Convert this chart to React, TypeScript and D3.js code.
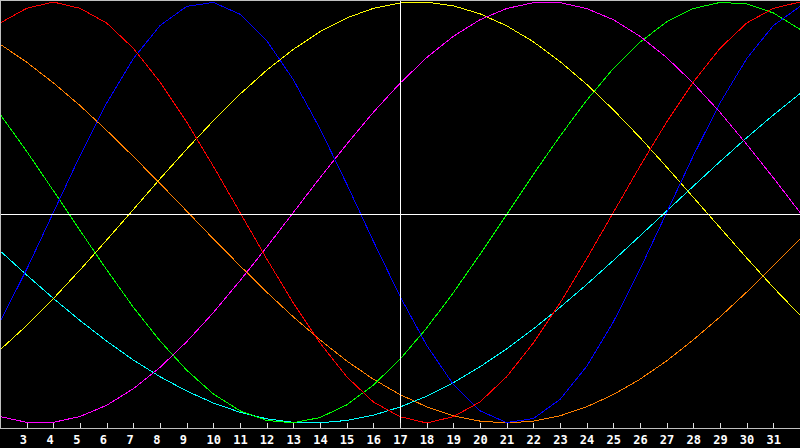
import { useEffect, useRef } from 'react';
import * as d3 from 'd3';

interface Series {
  color: string
  values: number[]
}

// samples are taken at every integer from 2 to 32
const xs = d3.range(2, 33);
const tickLabels = d3.range(3, 32);

const red = [0.90, 0.97, 1.0, 0.97, 0.90, 0.78, 0.62, 0.43, 0.22, 0, -0.22, -0.43, -0.62, -0.78, -0.90, -0.97,
  -1.0, -0.97, -0.90, -0.78, -0.62, -0.43, -0.22, 0, 0.22, 0.43, 0.62, 0.78, 0.90, 0.97, 1.0];
const orange = [0.80, 0.714, 0.616, 0.508, 0.39, 0.266, 0.138, 0.007, -0.125, -0.253, -0.378, -0.496, -0.605,
  -0.705, -0.792, -0.865, -0.923, -0.966, -0.991, -1.0, -0.991, -0.966, -0.923, -0.865, -0.792, -0.705, -0.605,
  -0.496, -0.378, -0.253, -0.125];
const green = [0.467, 0.291, 0.104, -0.085, -0.272, -0.45, -0.61, -0.749, -0.862, -0.942, -0.988, -0.999, -0.974,
  -0.914, -0.82, -0.697, -0.549, -0.381, -0.199, -0.009, 0.181, 0.363, 0.533, 0.684, 0.809, 0.906, 0.969, 0.998,
  0.991, 0.948, 0.87];
const blue = [-0.52, -0.27, 0, 0.27, 0.52, 0.731, 0.888, 0.979, 0.998, 0.942, 0.817, 0.631, 0.398, 0.136, -0.136,
  -0.398, -0.631, -0.817, -0.942, -0.998, -0.979, -0.888, -0.731, -0.52, -0.27, 0, 0.27, 0.52, 0.731, 0.888, 0.979];
const yellow = [-0.653, -0.537, -0.409, -0.273, -0.131, 0.014, 0.16, 0.301, 0.436, 0.562, 0.676, 0.775, 0.859, 0.924,
  0.97, 0.995, 0.999, 0.982, 0.944, 0.887, 0.811, 0.717, 0.609, 0.488, 0.356, 0.216, 0.072, -0.072, -0.216, -0.356,
  -0.488];
const magenta = [-0.969, -0.997, -0.997, -0.969, -0.916, -0.837, -0.736, -0.614, -0.476, -0.324, -0.165, 0, 0.165,
  0.324, 0.476, 0.614, 0.736, 0.837, 0.916, 0.969, 0.997, 0.997, 0.969, 0.916, 0.837, 0.736, 0.614, 0.476, 0.324,
  0.165, 0];
const cyan = [-0.182, -0.297, -0.408, -0.513, -0.611, -0.701, -0.78, -0.848, -0.905, -0.949, -0.98, -0.997, -0.999,
  -0.988, -0.963, -0.924, -0.873, -0.809, -0.733, -0.648, -0.553, -0.451, -0.342, -0.228, -0.111, 0.007, 0.125,
  0.242, 0.355, 0.463, 0.565];

const series: Series[] = [
  { color: '#ff8000', values: orange },
  { color: '#00ffff', values: cyan },
  { color: '#00ff00', values: green },
  { color: '#ffff00', values: yellow },
  { color: '#ff00ff', values: magenta },
  { color: '#0000ff', values: blue },
  { color: '#ff0000', values: red },
];

// cursor crosshair position
const cursorX = 17;
const cursorY = -0.007;

const App = (): JSX.Element => {
  const svgRef = useRef<SVGSVGElement>(null);

  useEffect(() => {
    const width = 800;
    const height = 448;
    const axisY = 428;

    const x = d3.scaleLinear().domain([2, 32]).range([0, width]);
    const y = d3.scaleLinear().domain([-1, 1]).range([423, 2]);

    const svg = d3.select(svgRef.current);

    svg.append('rect')
      .attr('width', width)
      .attr('height', height)
      .attr('fill', 'black');

    const line = d3.line<number>()
      .x((_d, i) => x(xs[i]))
      .y(d => y(d));

    svg.selectAll('path.series')
      .data(series)
      .enter()
      .append('path')
      .attr('class', 'series')
      .attr('d', d => line(d.values))
      .attr('fill', 'none')
      .attr('stroke', d => d.color)
      .attr('stroke-width', 1)
      .attr('shape-rendering', 'crispEdges');

    // crosshair
    svg.append('line')
      .attr('x1', Math.round(x(cursorX)) + 0.5)
      .attr('x2', Math.round(x(cursorX)) + 0.5)
      .attr('y1', 0)
      .attr('y2', axisY)
      .attr('stroke', 'white');
    svg.append('line')
      .attr('x1', 0)
      .attr('x2', width)
      .attr('y1', Math.round(y(cursorY)) + 0.5)
      .attr('y2', Math.round(y(cursorY)) + 0.5)
      .attr('stroke', 'white');

    // frame
    svg.append('line')
      .attr('x1', 0).attr('x2', width)
      .attr('y1', 0.5).attr('y2', 0.5)
      .attr('stroke', '#c0c0c0');
    svg.append('line')
      .attr('x1', 0.5).attr('x2', 0.5)
      .attr('y1', 0).attr('y2', axisY)
      .attr('stroke', '#c0c0c0');
    svg.append('line')
      .attr('x1', 0).attr('x2', width)
      .attr('y1', axisY + 0.5).attr('y2', axisY + 0.5)
      .attr('stroke', '#c0c0c0');

    // ticks and labels
    svg.selectAll('line.tick')
      .data(tickLabels)
      .enter()
      .append('line')
      .attr('class', 'tick')
      .attr('x1', d => Math.round(x(d)) + 0.5)
      .attr('x2', d => Math.round(x(d)) + 0.5)
      .attr('y1', axisY - 5)
      .attr('y2', axisY)
      .attr('stroke', '#e0e0e0');

    svg.selectAll('text.label')
      .data(tickLabels)
      .enter()
      .append('text')
      .attr('class', 'label')
      .attr('x', d => x(d) - 6.8)
      .attr('y', 444)
      .attr('fill', 'white')
      .attr('font-family', '"DejaVu Sans Mono", monospace')
      .attr('font-weight', 'bold')
      .attr('font-size', '12px')
      .text(d => d);

    return () => {
      d3.select(svgRef.current).selectAll('*').remove();
    };
  }, []);

  return (
    <div style={{ position: 'fixed', left: 0, top: 0, width: 800, height: 448, background: 'black' }}>
      <svg ref={svgRef} width={800} height={448} style={{ display: 'block' }}></svg>
    </div>
  );
};

export default App;
